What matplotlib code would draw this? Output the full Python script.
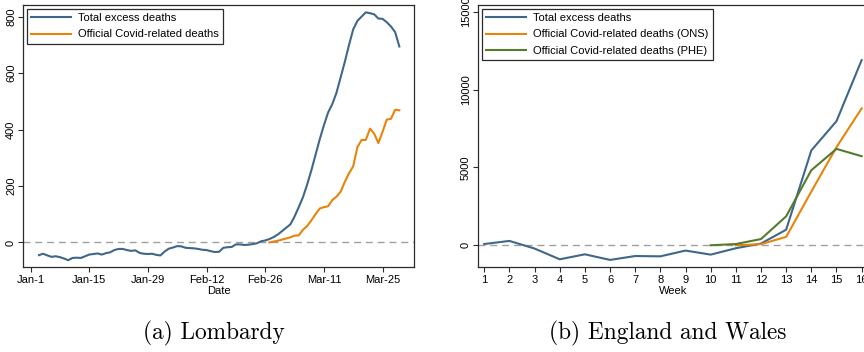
import matplotlib
matplotlib.use("Agg")
import matplotlib.pyplot as plt
import matplotlib.dates as mdates
import numpy as np
import pandas as pd

# ---- Lombardy (daily, 2020) ----
lomb_dates = pd.date_range("2020-01-03", "2020-03-29", freq="D")
lomb_total = [
    -45, -40, -46, -51, -49, -52, -57, -63, -55, -54, -55, -49, -43, -41, -39,
    -43, -38, -35, -27, -23, -23, -27, -30, -28, -37, -40, -41, -40, -44, -46,
    -32, -22, -18, -13, -14, -19, -20, -21, -23, -26, -27, -31, -34, -33, -19,
    -17, -16, -7, -7, -9, -8, -6, -3, 4, 7, 12, 19, 28, 40, 52,
    64, 92, 125, 160, 205, 255, 310, 365, 415, 460, 490, 530, 585, 640, 700,
    755, 785, 800, 815, 812, 808, 793, 792, 780, 765, 745, 694,
]
lomb_covid_dates = pd.date_range("2020-02-27", "2020-03-29", freq="D")
lomb_covid = [
    0, 3, 6, 10, 14, 18, 24, 25, 45, 58, 78, 100, 120, 125, 128, 150,
    162, 180, 215, 245, 270, 338, 363, 363, 403, 385, 352, 392, 435, 438, 470, 468,
]
lomb_ticks = pd.to_datetime(["2020-01-01", "2020-01-15", "2020-01-29", "2020-02-12",
                             "2020-02-26", "2020-03-11", "2020-03-25"])
lomb_ticklabels = ["Jan-1", "Jan-15", "Jan-29", "Feb-12", "Feb-26", "Mar-11", "Mar-25"]

# ---- England and Wales (weekly) ----
ew_weeks = list(range(1, 17))
ew_total = [80, 280, -210, -900, -580, -940, -690, -710, -340, -600, -190, 110, 1000, 6090, 7970, 11890]
ew_ons_weeks = [11, 12, 13, 14, 15, 16]
ew_ons = [0, 70, 540, 3450, 6300, 8790]
ew_phe_weeks = [10, 11, 12, 13, 14, 15, 16]
ew_phe = [0, 80, 400, 1860, 4820, 6190, 5720]

blue = "#40678a"
orange = "#e8840c"
green = "#567b2c"
frame = "#2b2b2b"

plt.rcParams["font.family"] = ["Liberation Sans", "DejaVu Sans"]
fs = 8.0

fig = plt.figure(figsize=(8.64, 3.52), dpi=100)
ax1 = fig.add_axes([23 / 864, 1 - 267 / 352, 391 / 864, 262 / 352])
ax2 = fig.add_axes([477.7 / 864, 1 - 267 / 352, 391 / 864, 262 / 352])


def style(ax):
    for s in ax.spines.values():
        s.set_color(frame)
        s.set_linewidth(0.9)
    ax.tick_params(axis="both", direction="out", length=3.5, width=0.8,
                   color=frame, labelsize=fs, pad=2)
    ax.tick_params(axis="y", pad=1.5)
    for lab in ax.get_yticklabels():
        lab.set_rotation(90)
        lab.set_va("center")


def legend(ax):
    leg = ax.legend(loc="upper left", fontsize=fs, handlelength=3.6, handletextpad=0.6,
                    labelspacing=0.55, borderaxespad=0.35, borderpad=0.4, fancybox=False,
                    edgecolor=frame, framealpha=1)
    leg.get_frame().set_linewidth(0.9)


# Panel (a)
ax1.axhline(0, color="#a0a0a0", lw=1.0, ls=(0, (5, 3.5)), zorder=1)
ax1.plot(lomb_dates, lomb_total, color=blue, lw=1.5, label="Total excess deaths", zorder=3)
ax1.plot(lomb_covid_dates, lomb_covid, color=orange, lw=1.5, label="Official Covid-related deaths", zorder=3)
x0 = mdates.date2num(pd.Timestamp("2020-01-01"))
ax1.set_xlim(x0 - 1.8, x0 + 91.5)
ax1.set_ylim(-87, 841)
ax1.set_xticks(lomb_ticks)
ax1.set_xticklabels(lomb_ticklabels)
ax1.set_yticks([0, 200, 400, 600, 800])
ax1.set_xlabel("Date", fontsize=fs, labelpad=1)
style(ax1)
legend(ax1)

# Panel (b)
ax2.axhline(0, color="#a0a0a0", lw=1.0, ls=(0, (5, 3.5)), zorder=1)
ax2.plot(ew_weeks, ew_total, color=blue, lw=1.5, label="Total excess deaths", zorder=3)
ax2.plot(ew_ons_weeks, ew_ons, color=orange, lw=1.5, label="Official Covid-related deaths (ONS)", zorder=3)
ax2.plot(ew_phe_weeks, ew_phe, color=green, lw=1.5, label="Official Covid-related deaths (PHE)", zorder=3)
ax2.set_xlim(0.74, 0.74 + 391 / 25.16)
ax2.set_ylim(-1395, 15430)
ax2.set_xticks(ew_weeks)
ax2.set_yticks([0, 5000, 10000, 15000])
ax2.set_xlabel("Week", fontsize=fs, labelpad=1)
style(ax2)
legend(ax2)

# Sub-captions
fig.text(214 / 864, 1 - 333 / 352, "(a) Lombardy", family="cmr10", fontsize=16.8,
         ha="center", va="center")
fig.text(668 / 864, 1 - 333 / 352, "(b) England and Wales", family="cmr10", fontsize=16.8,
         ha="center", va="center")

fig.savefig("out.png", dpi=100)
